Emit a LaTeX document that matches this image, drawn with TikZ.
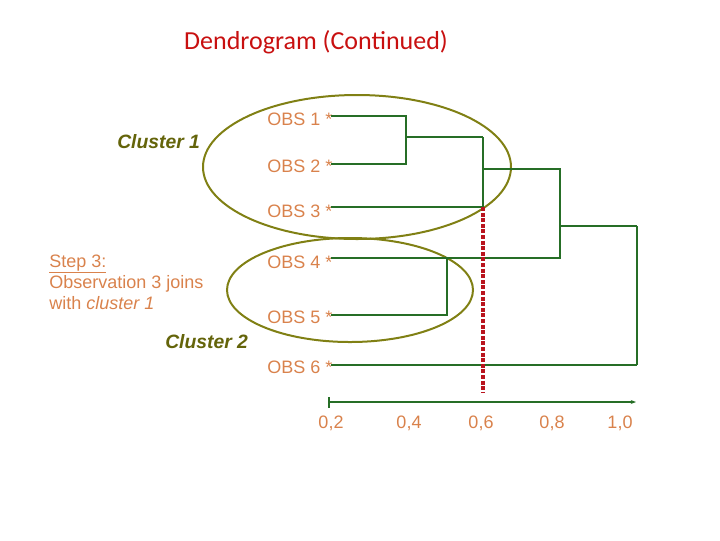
\documentclass[tikz,border=0pt]{standalone}
\usepackage{fontspec}
\setmainfont{Liberation Sans}
\newfontfamily\titlefont{Carlito}
\usetikzlibrary{shapes.geometric,arrows.meta}
\definecolor{dgreen}{RGB}{38,110,38}
\definecolor{obsorange}{RGB}{217,130,76}
\definecolor{olivec}{RGB}{128,128,20}
\definecolor{olivetxt}{RGB}{100,100,10}
\definecolor{titlered}{RGB}{200,16,16}
\definecolor{dotred}{RGB}{185,20,30}
\tikzset{
  obs/.style={anchor=base west, text=obsorange, font=\fontsize{13.5}{16}\selectfont, inner sep=0pt},
  axlab/.style={anchor=base, text=obsorange, font=\fontsize{13.5}{16}\selectfont, inner sep=0pt},
  clus/.style={anchor=base west, text=olivetxt, font=\fontsize{14.5}{17}\selectfont\bfseries\itshape, inner sep=0pt},
  steptxt/.style={anchor=base west, text=obsorange, font=\fontsize{13.5}{16}\selectfont, inner sep=0pt},
  link/.style={draw=dgreen, line width=0.9pt},
  thick link/.style={draw=dgreen, line width=1.6pt},
  ring/.style={draw=olivec, line width=1.5pt, ellipse, inner sep=0pt},
}
\begin{document}
\begin{tikzpicture}[x=0.75pt,y=-0.75pt]
\useasboundingbox (0,0) rectangle (720,540);
% title
\node[anchor=base, text=titlered, font=\titlefont\fontsize{19.5}{24}\selectfont, inner sep=0pt] (title) at (316,49) {Dendrogram (Continued)};
% cluster ellipses
\node[ring, minimum width=231pt, minimum height=108pt] (c1) at (357,167) {};
\node[ring, minimum width=184.5pt, minimum height=78pt] (c2) at (350,290) {};
% observation labels
\node[obs] (o1) at (267,125) {OBS 1 *};
\node[obs] (o2) at (267,172) {OBS 2 *};
\node[obs] (o3) at (267,217) {OBS 3 *};
\node[obs] (o4) at (267,268) {OBS 4 *};
\node[obs] (o5) at (267,323) {OBS 5 *};
\node[obs] (o6) at (267,373) {OBS 6 *};
% star points
\coordinate (s1) at (331,116);
\coordinate (s2) at (331,164);
\coordinate (s3) at (331,207);
\coordinate (s4) at (331,258);
\coordinate (s5) at (331,315);
\coordinate (s6) at (331,365);
% junctions
\coordinate (j12) at (406,137);
\coordinate (j123) at (483,169);
\coordinate (j1234) at (560,226);
% dendrogram links
\draw[link] (s1) -- (406,116) -- (406,164) -- (s2);
\draw[link] (j12) -- (483,137);
\draw[link] (s3) -- (483,207) -- (483,137);
\draw[thick link] (483,137) -- (483,185);
\draw[link] (j123) -- (560,169) -- (560,258) -- (s4);
\draw[link] (s5) -- (447,315) -- (447,258);
\draw[link] (j1234) -- (637,226);
\draw[thick link] (637,226) -- (637,365);
\draw[link] (637,365) -- (s6);
% red cut line
\coordinate (cutTop) at (483,207);
\coordinate (cutBot) at (483,393);
\draw[draw=dotred, line width=2.4pt, dash pattern=on 3pt off 1.2pt] (cutTop) -- (cutBot);
% axis
\coordinate (axL) at (329,402);
\coordinate (axR) at (636,402);
\draw[link, -{Stealth[length=4pt,width=3pt]}] (axL) -- (axR);
\draw[link] (329,397) -- (329,408);
\node[axlab] (a2) at (331,428) {0,2};
\node[axlab] (a4) at (409,428) {0,4};
\node[axlab] (a6) at (481,428) {0,6};
\node[axlab] (a8) at (552,428) {0,8};
\node[axlab] (a10) at (620,428) {1,0};
% cluster labels
\node[clus] (cl1) at (117,148) {Cluster 1};
\node[clus] (cl2) at (165,348) {Cluster 2};
% step text
\node[steptxt] (step1) at (49,267) {\underline{Step 3:}};
\node[steptxt] (step2) at (49,288) {Observation 3 joins};
\node[steptxt] (step3) at (49,309) {with \textit{cluster 1}};
\end{tikzpicture}
\end{document}
